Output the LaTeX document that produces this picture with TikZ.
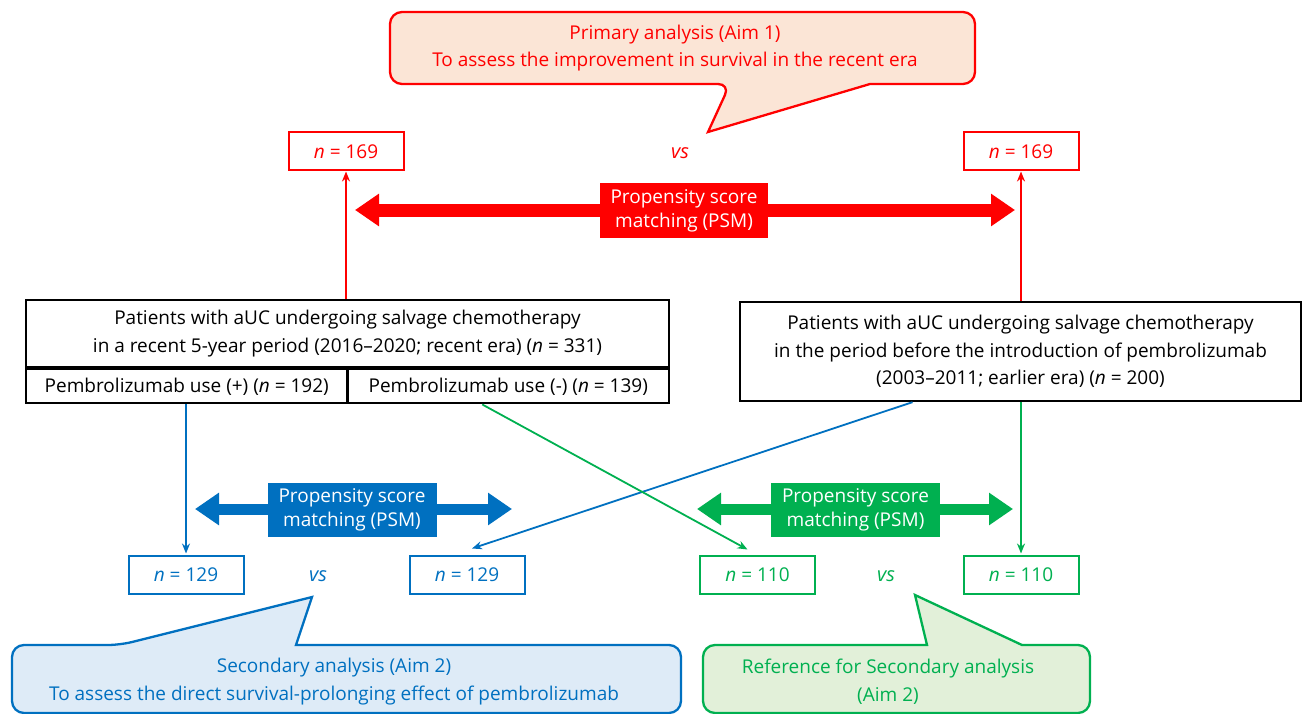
\documentclass[tikz,border=0pt]{standalone}
\usepackage{fontspec}
\setmainfont{Open Sans}
\usetikzlibrary{arrows.meta}
\definecolor{psmred}{RGB}{255,0,0}
\definecolor{psmblue}{RGB}{0,112,192}
\definecolor{psmgreen}{RGB}{0,176,80}
\definecolor{redfill}{RGB}{251,229,214}
\definecolor{bluefill}{RGB}{222,235,247}
\definecolor{greenfill}{RGB}{226,240,217}

\begin{document}
\begin{tikzpicture}[x=1pt,y=-1pt,font=\fontsize{19}{23}\selectfont,
    nbox/.style={draw=#1,text=#1,line width=2pt,minimum width=115pt,minimum height=38pt,inner sep=0pt},
    group/.style={draw,line width=2.3pt,inner sep=0pt,align=center,font=\fontsize{19}{28}\selectfont},
    psm/.style={fill=#1,text=white,align=center,minimum width=169pt,minimum height=54pt,inner sep=0pt,font=\fontsize{19}{24}\selectfont},
    link/.style={draw=#1,line width=1.8pt,-{Stealth[length=10pt,width=8pt]}},
    fat/.style={draw=#1,line width=11pt,{Triangle[length=24pt,width=31pt]}-{Triangle[length=24pt,width=31pt]}},
    callout/.style={draw=#1,line width=2.3pt},
    vs/.style={text=#1,font=\fontsize{20}{23}\selectfont\itshape}]
    \useasboundingbox (0,0) rectangle (1305,714);

    \draw[callout=psmred,fill=redfill] (680,12) [rounded corners=12pt] -- (390,12) -- (390,84) -- (730,84)
      [sharp corners] -- (708,132) -- (870,84) -- (900,84) [rounded corners=12pt] -- (975,84) -- (975,12) -- cycle;
    \node[text=psmred,align=center,font=\fontsize{19}{27}\selectfont] (aim1) at (675,48)
      {Primary analysis (Aim 1)\\To assess the improvement in survival in the recent era};

    \node[nbox=psmred] (nl) at (346,151.5) {\textit{n} = 169};
    \node[nbox=psmred] (nr) at (1021,151.5) {\textit{n} = 169};
    \node[vs=psmred] (vsred) at (680,153) {vs};

    \coordinate (rl) at (355,210);
    \coordinate (rr) at (1015,210);
    \draw[fat=psmred,line width=13pt] (rl) -- (rr);
    \node[psm=psmred,minimum width=168pt,minimum height=55pt] (psmr) at (684,210.5) {Propensity score\\matching (PSM)};

    \node[group,minimum width=643pt,minimum height=67pt] (recent) at (347.5,333.5)
      {Patients with aUC undergoing salvage chemotherapy\\in a recent 5-year period (2016–2020; recent era) (\textit{n} = 331)};
    \node[group,minimum width=321.5pt,minimum height=34pt,anchor=north west] (plus) at (recent.south west)
      {Pembrolizumab use (+) (\textit{n} = 192)};
    \node[group,minimum width=321.5pt,minimum height=34pt,anchor=north east] (minus) at (recent.south east)
      {Pembrolizumab use (-) (\textit{n} = 139)};
    \node[group,minimum width=561pt,minimum height=99pt,font=\fontsize{19}{27.5}\selectfont] (earlier) at (1020.5,351.5)
      {Patients with aUC undergoing salvage chemotherapy\\in the period before the introduction of pembrolizumab\\(2003–2011; earlier era) (\textit{n} = 200)};

    \draw[link=psmred] (nl.south |- recent.north) -- (nl.south);
    \draw[link=psmred] (nr.south |- earlier.north) -- (nr.south);

    \node[nbox=psmblue] (bl) at (186,574.5) {\textit{n} = 129};
    \node[nbox=psmblue] (br) at (467,574.5) {\textit{n} = 129};
    \node[vs=psmblue] (vsblue) at (318,576) {vs};
    \node[nbox=psmgreen] (gl) at (757.5,574.5) {\textit{n} = 110};
    \node[nbox=psmgreen] (gr) at (1021,574.5) {\textit{n} = 110};
    \node[vs=psmgreen] (vsgreen) at (886,576) {vs};

    \coordinate (bll) at (195,509);
    \coordinate (blr) at (512,509);
    \draw[fat=psmblue] (bll) -- (blr);
    \node[psm=psmblue] (psmb) at (352,510) {Propensity score\\matching (PSM)};
    \coordinate (gll) at (697,509);
    \coordinate (glr) at (1013,509);
    \draw[fat=psmgreen] (gll) -- (glr);
    \node[psm=psmgreen] (psmg) at (855.5,510) {Propensity score\\matching (PSM)};

    \draw[link=psmblue,shorten >=1pt] (bl.north |- plus.south) -- (bl.north);
    \draw[link=psmblue] ([xshift=-108pt]earlier.south) -- ([xshift=5pt,yshift=6pt]br.north);
    \draw[link=psmgreen] ([xshift=-26pt]minus.south) -- ([xshift=-10pt,yshift=5pt]gl.north);
    \draw[link=psmgreen,shorten >=1pt] (gr.north |- earlier.south) -- (gr.north);

    \draw[callout=psmblue,fill=bluefill] (400,645) [rounded corners=12pt] -- (681,645) -- (681,713) -- (12,713)
      -- (12,645) -- (120,645) [sharp corners] -- (312,597) -- (296,645) -- cycle;
    \node[text=psmblue,align=center,font=\fontsize{19}{28}\selectfont] (aim2) at (334,682)
      {Secondary analysis (Aim 2)\\To assess the direct survival-prolonging effect of pembrolizumab};

    \draw[callout=psmgreen,fill=greenfill] (850,645) -- (927,645) -- (915,595) -- (1022,645) -- (1040,645)
      [rounded corners=12pt] -- (1090,645) -- (1090,713) -- (703,713) -- (703,645) -- cycle;
    \node[text=psmgreen,align=center,font=\fontsize{19}{28}\selectfont] (ref) at (888,682)
      {Reference for Secondary analysis\\(Aim 2)};
\end{tikzpicture}
\end{document}
